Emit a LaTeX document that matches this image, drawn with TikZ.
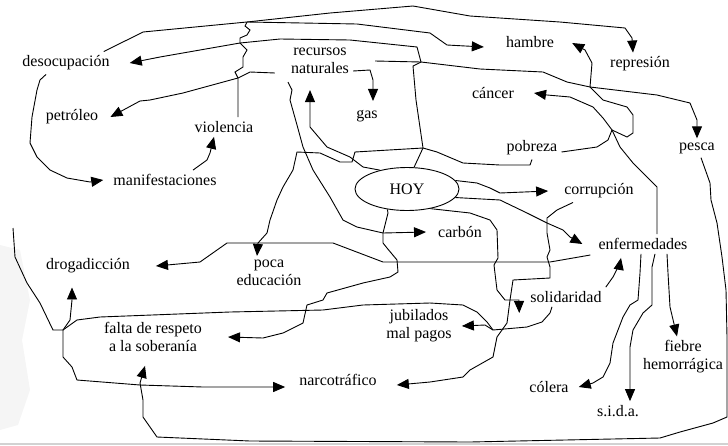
\documentclass[tikz,border=0pt]{standalone}
\usepackage{fontspec}
\setmainfont{Liberation Serif}
\usetikzlibrary{arrows.meta,shapes.geometric}

\tikzset{
  concept/.style={inner sep=4pt, align=center, font=\fontsize{16}{18}\selectfont},
  link/.style={line width=0.9pt, -{Triangle[length=12pt,width=10pt]}},
  wire/.style={line width=0.9pt},
}

\begin{document}
\begin{tikzpicture}[x=1pt,y=-1pt]
  \useasboundingbox (0,0) rectangle (728,445);
  % faint marks
  \fill[gray!8] (0,245) -- (20,250) -- (30,300) -- (22,340) -- (30,390) -- (18,425) -- (0,430) -- cycle;
  \draw[gray!35, line width=1.5pt] (0,444) -- (728,444);

  % concepts
  \node[concept] (desoc)   at (66,63)   {desocupación};
  \node[concept] (recnat)  at (320,61)  {recursos\\naturales};
  \node[concept] (hambre)  at (530,42)  {hambre};
  \node[concept] (repr)    at (640,64)  {represión};
  \node[concept] (petro)   at (72,117)  {petróleo};
  \node[concept] (viol)    at (224,127) {violencia};
  \node[concept] (gas)     at (367,116) {gas};
  \node[concept] (cancer)  at (493,93)  {cáncer};
  \node[concept] (pobreza) at (532,148) {pobreza};
  \node[concept] (pesca)   at (697,148) {pesca};
  \node[concept] (manif)   at (165,180) {manifestaciones};
  \node[concept, draw, ellipse, line width=0.9pt, minimum width=104pt, minimum height=43pt] (hoy) at (407,189) {HOY};
  \node[concept] (corrup)  at (599,191) {corrupción};
  \node[concept] (carbon)  at (460,232) {carbón};
  \node[concept] (enferm)  at (643,244) {enfermedades};
  \node[concept] (drog)    at (88,266)  {drogadicción};
  \node[concept] (poca)    at (269,273) {poca\\educación};
  \node[concept] (solid)   at (566,297) {solidaridad};
  \node[concept] (falta)   at (153,337) {falta de respeto\\a la soberanía};
  \node[concept] (jubil)   at (419,326) {jubilados\\mal pagos};
  \node[concept] (narco)   at (338,380) {narcotráfico};
  \node[concept] (colera)  at (549,387) {cólera};
  \node[concept] (sida)    at (618,411) {s.i.d.a.};
  \node[concept] (fiebre)  at (683,357) {fiebre\\hemorrágica};

  % junctions
  \coordinate (wtop) at (247,22);
  \coordinate (wmid) at (240,43);
  \coordinate (wlow) at (238,78);
  \coordinate (jr)   at (421,62);
  \coordinate (jh)   at (423,148);
  \coordinate (jp)   at (612,130);
  \coordinate (jl)   at (63,330);
  \coordinate (js)   at (493,330);
  \coordinate (lft)  at (13,228);

  % top
  \draw[link] ([xshift=-10pt]desoc.north east) -- (127,40) -- (143,32) -- (wtop) -- (330,13) -- (413,6) -- (470,16) -- (560,22) -- (625,28) -- (632,38) -- ([xshift=-7pt]repr.north);
  \draw[wire] (wtop) -- (245,26) -- (250,30) -- (247,35) -- (240,38) -- (wmid) -- (247,50) -- (243,57) -- (243,67) -- (235,72) -- (wlow) -- (238,90) -- ([xshift=14pt]viol.north);
  \draw[link] (wtop) -- (357,24) -- (430,33) -- (447,45) -- ([xshift=-18pt,yshift=-5pt]hambre.west);
  \draw[link] (wmid) -- (200,50) -- (160,57) -- ([xshift=16pt]desoc.east);
  \draw[wire] (wmid) -- (280,39) -- (350,40) -- (417,47) -- (jr);
  \draw[wire] ([xshift=22pt]recnat.east) -- (jr);
  \draw[link] (jr) -- (480,69) -- (543,72) -- (567,82) -- (590,87) -- (657,95) -- (690,103) -- (697,120) -- (pesca.north);
  \draw[wire] (jr) -- (413,66) -- (416,100) -- (jh) -- (hoy.72);
  \draw[link] ([xshift=-12pt,yshift=-12pt]recnat.west) -- (250,72) -- (wlow) -- (183,93) -- (150,100) -- (140,101) -- ([xshift=8pt]petro.east);
  \draw[link] ([yshift=-10pt]recnat.east) -- (370,70) -- (373,80) -- (373,92) -- ([xshift=6pt,yshift=5pt]gas.north);
  \draw[link] ([xshift=-20pt]desoc.south) -- (40,80) -- (37,90) -- (32,117) -- (30,143) -- (37,157) -- (50,170) -- (67,178) -- (90,182) -- ([xshift=-6pt]manif.west);
  \draw[link] ([xshift=28pt]manif.north) -- (207,160) -- (210,153) -- ([xshift=-10pt]viol.south);

  % around HOY
  \draw[link] (hoy.145) -- (363,167) -- (350,157) -- (327,147) -- (310,127) -- (310,100) -- ([xshift=-10pt,yshift=-12pt]recnat.south);
  \draw[link] ([xshift=-32pt,yshift=-4pt]recnat.south) -- (292,90) -- (290,100) -- (297,125) -- (303,147) -- (313,170) -- (330,197) -- (343,220) -- (357,227) -- (383,233) -- ([xshift=-8pt]carbon.west);
  \draw[link] (pobreza.south) -- (530,165) -- (500,165) -- (463,163) -- (437,152) -- (jh) -- (355,152) -- (352,162) -- (340,162) -- (320,153) -- (297,152) -- (293,170) -- (283,187) -- (277,200) -- (270,220) -- (267,233) -- (258,243) -- ([xshift=-12pt]poca.north);
  \draw[link] (hoy.10) -- (477,183) -- (490,188) -- (500,193) -- ([xshift=-12pt]corrup.west);
  \draw[link] (hoy.-10) -- (500,200) -- (527,213) -- (547,223) -- (563,230) -- (570,237) -- ([xshift=-12pt]enferm.west);
  \draw[link] (hoy.-40) -- (470,213) -- (490,220) -- (497,230) -- (498,258) -- (494,265) -- (497,290) -- (505,300) -- (519,300) -- ([xshift=-7pt,yshift=-16pt]solid.west);
  \draw[link] (hoy.-134) -- (388,213) -- (383,233) -- (383,243) -- (387,248) -- (397,260) -- (398,272) -- (390,277) -- (363,283) -- (327,293) -- (323,300) -- (307,305) -- (303,323) -- (283,333) -- (263,338) -- ([xshift=22pt]falta.east);

  % right side
  \draw[wire] ([yshift=-4pt]pobreza.east) -- (597,147) -- (608,140) -- (jp);
  \draw[link] (jp) -- (603,118) -- (593,107) -- (570,97) -- (547,95) -- ([xshift=16pt]cancer.east);
  \draw[link] (jp) -- (627,137) -- (633,133) -- (633,115) -- (627,107) -- (603,100) -- (590,87) -- (592,63) -- (585,50) -- ([xshift=14pt,yshift=-1pt]hambre.east);
  \draw[wire] (jp) -- (620,147) -- (633,163) -- (647,177) -- (657,187) -- ([xshift=14pt]enferm.north);
  \draw[link] ([xshift=-26pt]corrup.south) -- (557,210) -- (547,218) -- (547,233) -- (550,250) -- (547,257) -- (550,267) -- (550,278) -- (513,280) -- (510,300) -- (507,323) -- (497,337) -- (493,357) -- (470,370) -- (463,377) -- (430,382) -- ([xshift=16pt,yshift=-5pt]narco.east);
  \draw[link] ([xshift=-4pt,yshift=-11pt]enferm.west) -- (550,262) -- (470,262) -- (383,262) -- (333,243) -- (227,243) -- (200,262) -- ([xshift=22pt]drog.east);
  \draw[link] (solid.north east) -- (613,277) -- (620,263) -- ([xshift=-22pt,yshift=-4pt]enferm.south);
  \draw[link] ([xshift=-14pt]solid.south) -- (550,313) -- (542,322) -- (527,327) -- (js) -- (485,325) -- ([xshift=6pt]jubil.east);
  \draw[link] ([xshift=-2pt]enferm.south) -- (640,273) -- (638,300) -- (630,305) -- (623,317) -- (613,343) -- (610,363) -- (603,377) -- (593,383) -- ([xshift=6pt]colera.east);
  \draw[link] ([xshift=12pt]enferm.south) -- (652,267) -- (652,305) -- (643,313) -- (633,330) -- (630,347) -- ([xshift=12pt]sida.north);
  \draw[link] ([xshift=24pt]enferm.south) -- (668,273) -- (670,307) -- ([xshift=-6pt]fiebre.north);

  % left and bottom
  \draw[wire] (lft) -- (15,257) -- (27,283) -- (40,303) -- (53,330) -- (jl);
  \draw[link] (jl) -- (70,320) -- (72,300) -- ([xshift=-16pt,yshift=-10pt]drog.south);
  \draw[wire] (jl) -- (77,320) -- (100,317) -- (230,312) -- (323,310) -- (363,305) -- (430,303) -- (463,305) -- (477,312) -- (487,322) -- (js);
  \draw[link] (jl) -- (63,357) -- (72,367) -- (77,380) -- (140,385) -- (203,387) -- ([xshift=-10pt,yshift=-7pt]narco.west);
  \draw[link] ([xshift=4pt]pesca.south) -- (710,183) -- (711,200) -- (717,223) -- (722,257) -- (726,290) -- (727,337) -- (727,417) -- (713,423) -- (680,432) -- (660,438) -- (470,442) -- (250,441) -- (157,437) -- (143,417) -- (143,400) -- (140,383) -- ([xshift=-8pt,yshift=-10pt]falta.south);
\end{tikzpicture}
\end{document}
